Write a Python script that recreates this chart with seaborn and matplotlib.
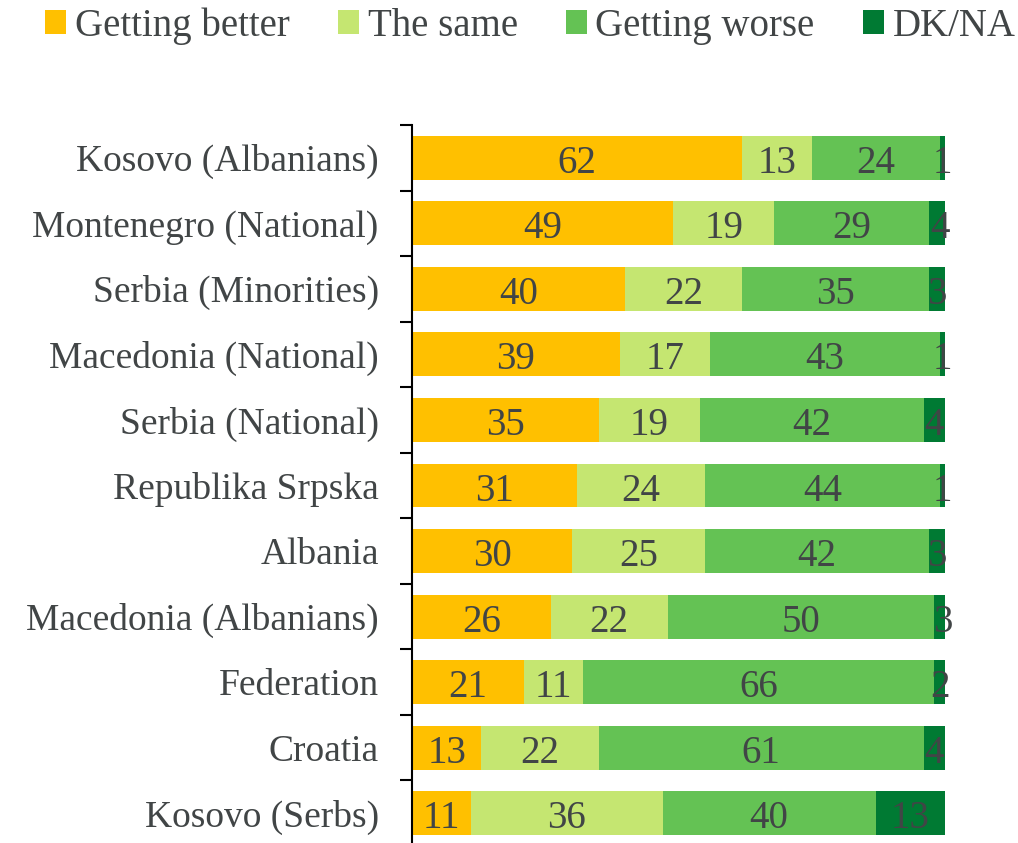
import numpy as np
import pandas as pd
import matplotlib
matplotlib.use("Agg")
import matplotlib.pyplot as plt
import seaborn as sns
from matplotlib.patches import Patch

categories = ["Kosovo (Albanians)", "Montenegro (National)", "Serbia (Minorities)",
              "Macedonia (National)", "Serbia (National)", "Republika Srpska",
              "Albania", "Macedonia (Albanians)", "Federation", "Croatia", "Kosovo (Serbs)"]
better = [62, 49, 40, 39, 35, 31, 30, 26, 21, 13, 11]
same = [13, 19, 22, 17, 19, 24, 25, 22, 11, 22, 36]
worse = [24, 29, 35, 43, 42, 44, 42, 50, 66, 61, 40]
dkna = [1, 4, 3, 1, 4, 1, 3, 3, 2, 4, 13]
series_names = ["Getting better", "The same", "Getting worse", "DK/NA"]
colors = ["#FFC000", "#C5E671", "#64C254", "#007A33"]

sns.set_theme(style="white")
plt.rcParams["font.family"] = ["Liberation Serif", "DejaVu Serif"]
text_color = "#414546"
fs = 27
vfs = 28

df = pd.DataFrame({"cat": categories, "b": better, "s": same, "w": worse, "d": dkna})
series = [df["b"], df["s"], df["w"], df["d"]]
cums = np.cumsum(np.array(series), axis=0)

fig = plt.figure(figsize=(10.18, 8.43), dpi=100)
ax = fig.add_axes([412 / 1018, -3 / 843, (945 - 412) / 1018, (846 - 125) / 843])

for i in range(3, -1, -1):
    d = pd.DataFrame({"cat": categories, "val": cums[i]})
    sns.barplot(data=d, x="val", y="cat", orient="h", color=colors[i],
                width=0.67, ax=ax, saturation=1, edgecolor="none", linewidth=0)

for i in range(4):
    for j in range(len(categories)):
        left = cums[i][j] - series[i][j]
        ax.text(left + series[i][j] / 2, j + 0.23, str(series[i][j]), ha="center", va="baseline",
                fontsize=vfs, color=text_color)

ax.set_xlim(0, 100)
ax.set_ylim(len(categories) - 0.5, -0.5)
ax.set_xlabel("")
ax.set_ylabel("")
ax.set_xticks([])
for s in ["top", "right", "bottom"]:
    ax.spines[s].set_visible(False)
ax.spines["left"].set_color("black")
ax.spines["left"].set_linewidth(1.5)
ax.set_yticks(range(len(categories)))
ax.set_yticklabels(categories, fontsize=fs, color=text_color)
ax.tick_params(axis="y", length=0, pad=24)
ax.set_yticks(np.arange(-0.5, len(categories), 1), minor=True)
ax.tick_params(axis="y", which="minor", length=8.5, width=1.5, color="black", left=True)

handles = [Patch(facecolor=c, edgecolor="none") for c in colors]
fig.legend(handles, series_names, loc="center", bbox_to_anchor=(0.521, 1 - 26 / 843), ncol=4,
           frameon=False, fontsize=28, handlelength=0.54, handleheight=0.54, handletextpad=0.22,
           columnspacing=1.24, labelcolor=text_color, borderpad=0, borderaxespad=0)

fig.savefig("out.png", dpi=100)
